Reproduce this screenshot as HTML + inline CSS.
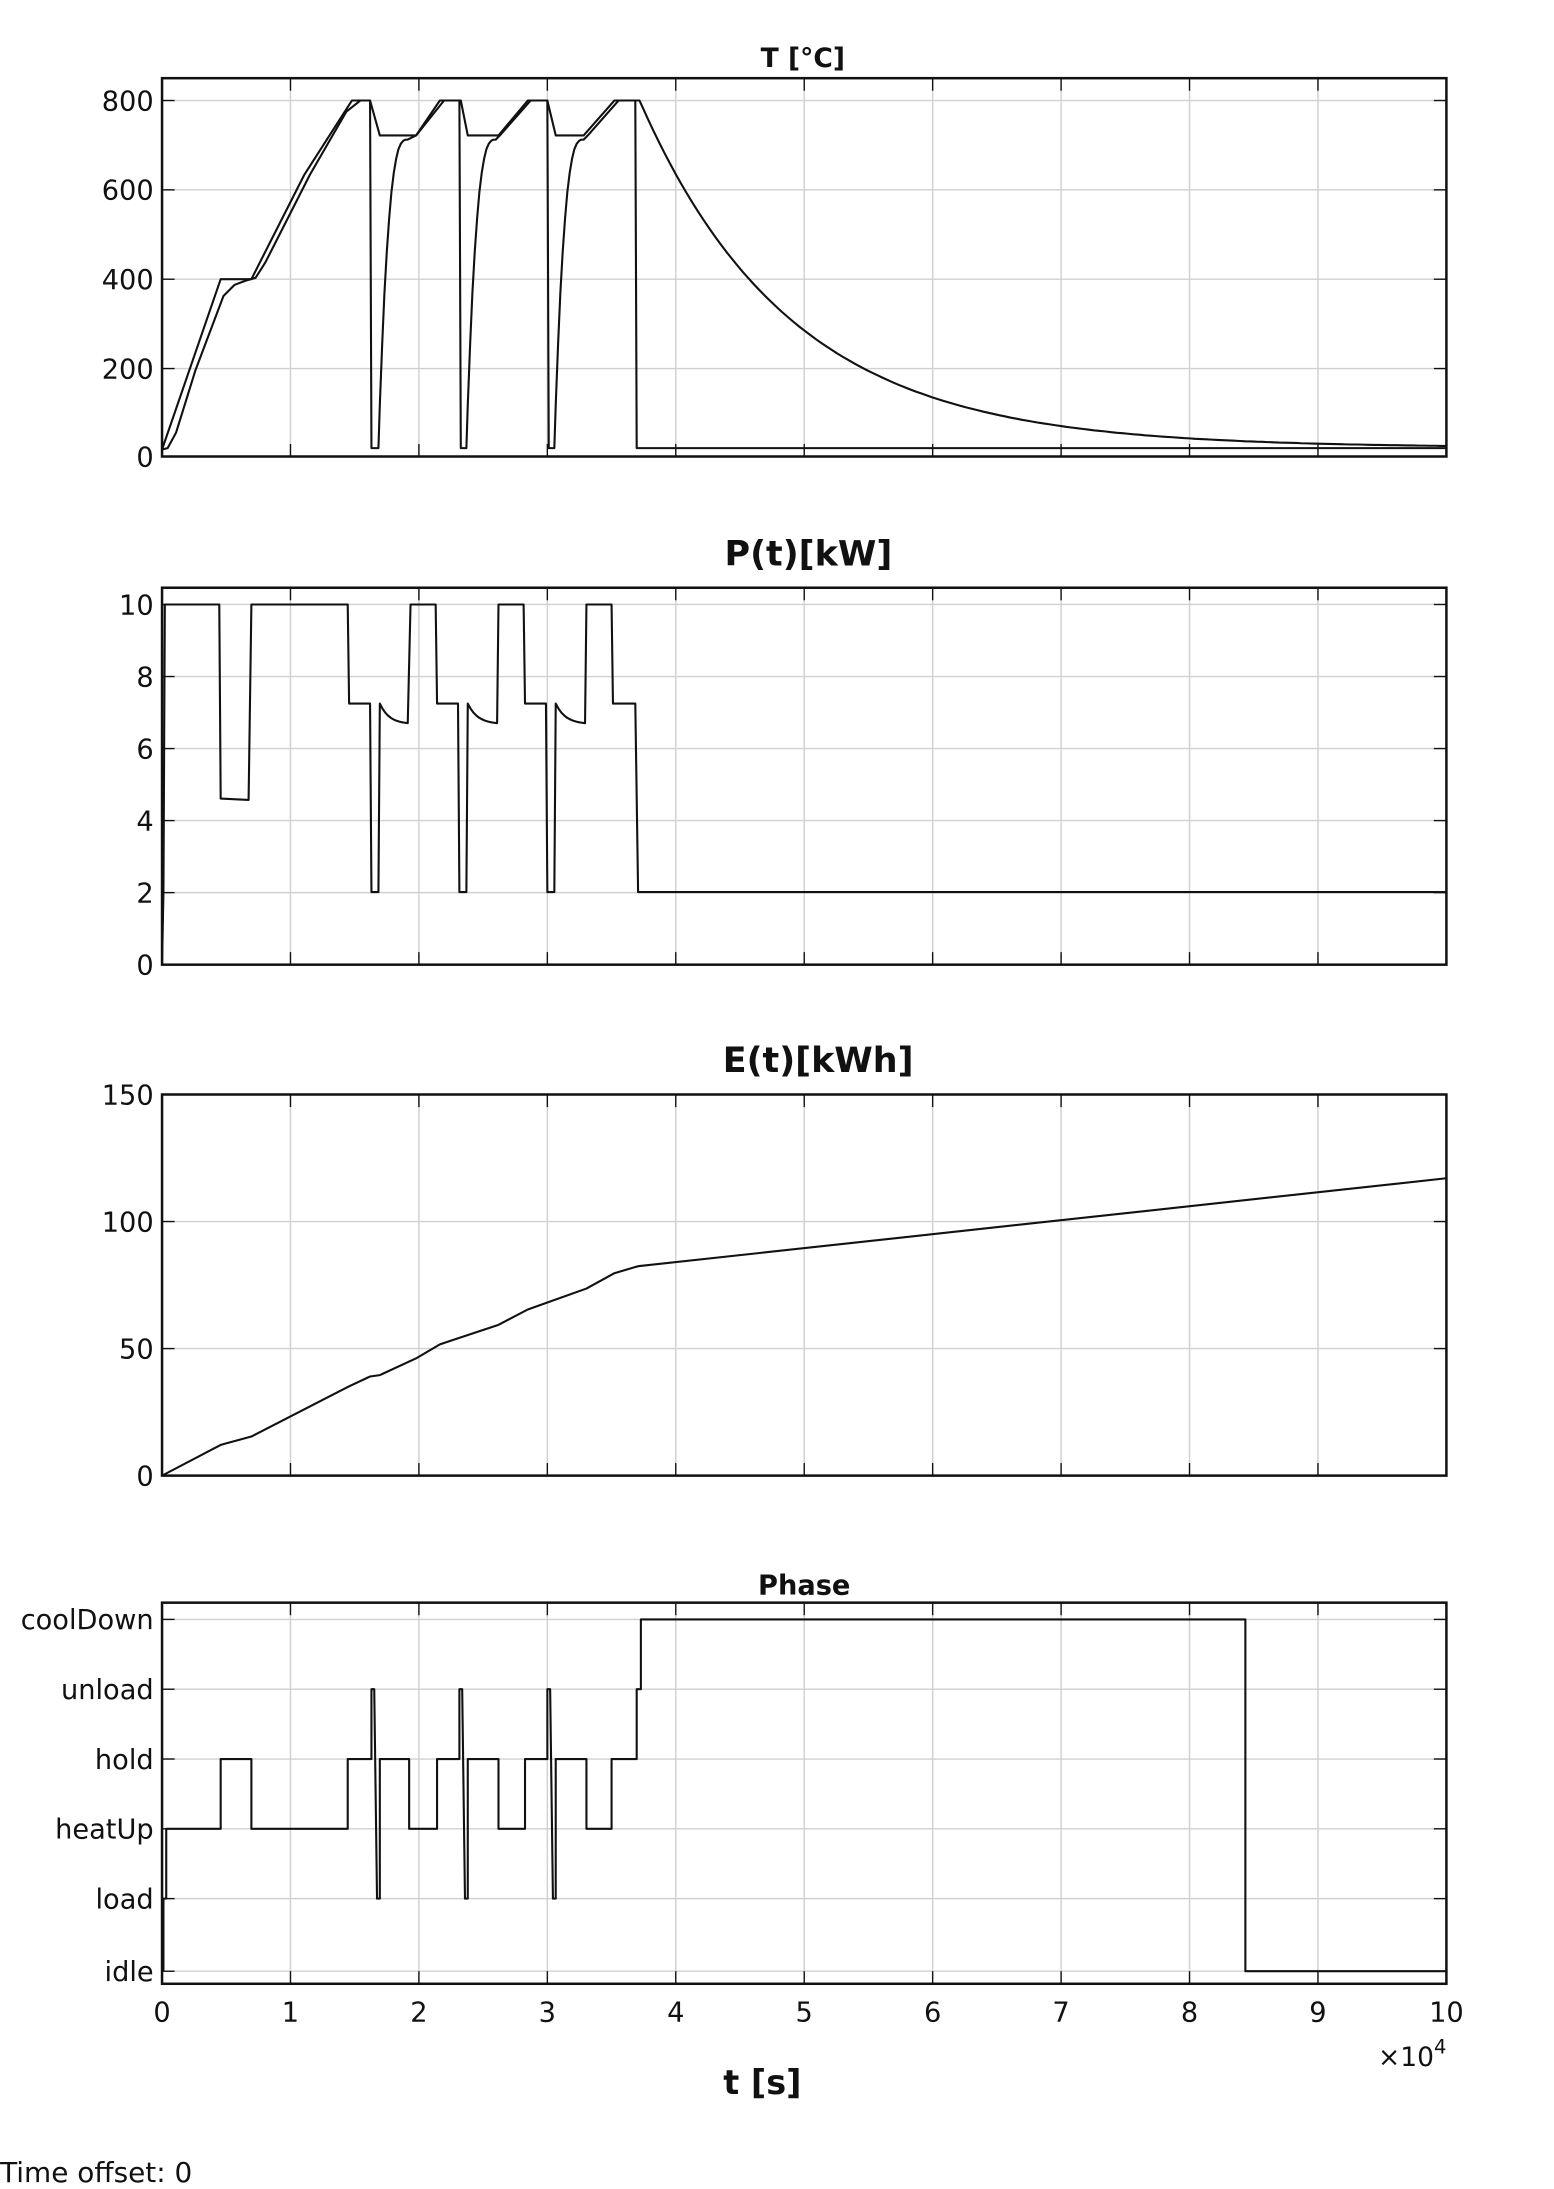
<!DOCTYPE html>
<html><head><meta charset="utf-8"><style>
html,body{margin:0;padding:0;background:#fff;}
svg{display:block;}
text{font-family:"DejaVu Sans","Liberation Sans",sans-serif;fill:#111;}
</style></head><body>
<svg id="s" width="1554" height="2189" viewBox="0 0 1113 1568" xmlns="http://www.w3.org/2000/svg">
<g id="g"></g>
<text x="575" y="48" font-size="19" font-weight="bold" text-anchor="middle">T [°C]</text>
<text x="579" y="405" font-size="25" font-weight="bold" text-anchor="middle">P(t)[kW]</text>
<text x="586" y="768" font-size="25" font-weight="bold" text-anchor="middle">E(t)[kWh]</text>
<text x="576" y="1142" font-size="19.5" font-weight="bold" text-anchor="middle">Phase</text>
<text x="1036" y="1480" font-size="19" text-anchor="end">×10<tspan dy="-9" font-size="14">4</tspan></text>
<text x="546" y="1500" font-size="24" font-weight="bold" text-anchor="middle">t [s]</text>
<text x="0" y="1563" font-size="20">Time offset: 0</text>
</svg>
<script>
const NS="http://www.w3.org/2000/svg",G=document.getElementById('g');
function el(n,a,t){const e=document.createElementNS(NS,n);for(const k in a)e.setAttribute(k,a[k]);if(t!==undefined)e.textContent=t;G.appendChild(e);return e;}
const L=116,R=1036,X=t=>L+92*t;
function axes(top,bot,ticks){
  for(let i=1;i<10;i++)el('line',{x1:X(i),x2:X(i),y1:top,y2:bot,stroke:'#d0d0d0','stroke-width':1});
  ticks.forEach(([y])=>el('line',{x1:L,x2:R,y1:y,y2:y,stroke:'#d0d0d0','stroke-width':1}));
  for(let i=1;i<10;i++){el('line',{x1:X(i),x2:X(i),y1:top,y2:top+9,stroke:'#111'});el('line',{x1:X(i),x2:X(i),y1:bot,y2:bot-9,stroke:'#111'});}
  ticks.forEach(([y,l])=>{el('line',{x1:L,x2:L+9,y1:y,y2:y,stroke:'#111'});el('line',{x1:R,x2:R-9,y1:y,y2:y,stroke:'#111'});
    el('text',{x:L-6,y:y+7,'font-size':19.5,'text-anchor':'end'},l);});
  el('rect',{x:L,y:top,width:R-L,height:bot-top,fill:'none',stroke:'#111','stroke-width':1.8});
}
function path(pts,w){el('path',{d:'M'+pts.map(p=>p[0].toFixed(1)+','+p[1].toFixed(1)).join('L'),fill:'none',stroke:'#111','stroke-width':w||1.5,'stroke-linejoin':'round'});}
axes(56,327,[[72,'800'],[136,'600'],[200,'400'],[264,'200'],[327,'0']]);
path([[116,322],[158,200],[180,200],[218,125],[252,72],[265,72],[272,97],[298,97],[315,72],[330,72],[335,97],[357,97],[378,72],[392,72],[398,97],[418,97],[440,72],[455,72],[456,321],[1036,321]]);
(function(){
 let p=[[116,322],[120,321],[126,310],[140,265],[160,212],[168,204],[176,201],[183,199],[190,188],[222,125],[248,80],[258,72],[265,72],[266,321],[271,321],[272,290]];
 function rise(x0,x1){for(let i=1;i<=12;i++){const f=i/12;p.push([x0+(x1-x0)*f,290-(290-100)*(1-Math.pow(1-f,3))]);}}
 rise(272,292);p.push([298,97],[318,72],[329,72],[330,321],[334,321],[335,290]);rise(335,355);
 p.push([358,97],[380,72],[392,72],[393,321],[397,321],[398,290]);rise(398,418);p.push([421,97],[443,72],[455,72],[458,72]);
 for(let x=460;x<=1036;x+=4){const t=(x-458)/92;const v=20+780*Math.exp(-t/1.18);p.push([x,327-v*0.319]);}
 path(p);
})();
const PY=v=>691-25.8*v;
axes(421,691,[[PY(10),'10'],[PY(8),'8'],[PY(6),'6'],[PY(4),'4'],[PY(2),'2'],[691,'0']]);
(function(){
 let p=[[116,691],[117,639],[118,433],[157,433],[158,572],[178,573],[180,433],[249,433],[250,504],[265,504],[266,639],[271,639],[272,504]];
 function dec(x0,x1){for(let i=1;i<=10;i++){const f=i/10;p.push([x0+(x1-x0)*f,504+14*(1-Math.exp(-3*f))/(1-Math.exp(-3))]);}}
 dec(272,292);p.push([294,433],[312,433],[313,504],[328,504],[329,639],[334,639],[335,504]);dec(335,356);
 p.push([357,433],[375,433],[376,504],[391,504],[392,639],[397,639],[398,504]);dec(398,419);
 p.push([420,433],[438,433],[439,504],[455,504],[457,639],[1036,639]);path(p);
})();
const EY=v=>1057-1.82*v;
axes(784,1057,[[784,'150'],[EY(100),'100'],[EY(50),'50'],[1057,'0']]);
path([[116,1057],[158,1035],[180,1029],[250,993],[265,986],[272,985],[298,973],[315,963],[330,958],[357,949],[378,938],[392,933],[420,923],[440,912],[457,907],[1036,844]]);
axes(1148,1421,[[1160,'coolDown'],[1210,'unload'],[1260,'hold'],[1310,'heatUp'],[1360,'load'],[1412,'idle']]);
path([[117,1412],[117,1360],[119,1360],[119,1310],[158,1310],[158,1260],[180,1260],[180,1310],[249,1310],[249,1260],[266,1260],[266,1210],[268,1210],[270,1360],[272,1360],[272,1260],[293,1260],[293,1310],[313,1310],[313,1260],[329,1260],[329,1210],[331,1210],[333,1360],[335,1360],[335,1260],[357,1260],[357,1310],[376,1310],[376,1260],[392,1260],[392,1210],[394,1210],[396,1360],[398,1360],[398,1260],[420,1260],[420,1310],[438,1310],[438,1260],[456,1260],[456,1210],[459,1210],[459,1160],[892,1160],[892,1412],[1036,1412]]);
for(let i=0;i<=10;i++)el('text',{x:X(i),y:1448,'font-size':19.5,'text-anchor':'middle'},String(i));
</script>
</body></html>
